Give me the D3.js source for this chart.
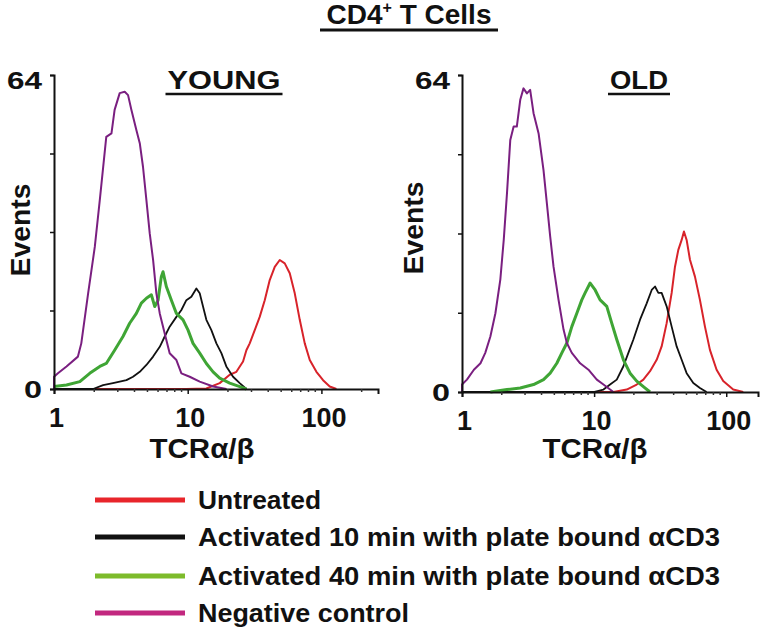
<!DOCTYPE html>
<html>
<head>
<meta charset="utf-8">
<script src="https://cdn.jsdelivr.net/npm/d3@7"></script>
<style>
  html, body { margin: 0; padding: 0; background: #fff; }
  svg { display: block; }
  text { font-family: "Liberation Sans", Arial, sans-serif; font-weight: bold; fill: #111; }
</style>
</head>
<body>
<svg id="chart" width="769" height="631"></svg>
<script>
// ---- Data (fluorescence intensity, events) ----
const seriesNames = ["Untreated", "Activated 10 min with plate bound \u03b1CD3",
                     "Activated 40 min with plate bound \u03b1CD3", "Negative control"];
const panelTitles = ["YOUNG", "OLD"];
const xTickValues = [1, 10, 100];
const yTickValues = [0, 16, 32, 48, 64];
const yTickLabels = ["0", "", "", "", "64"];

const youngUntreated = [[1,0],[9.77,0],[13.79,0.1],[17.35,1.2],[20.62,2.9],[23.13,3.5],[25.94,5.6],[27.47,7.9],[29.1,9.3],[31.72,12.0],[34.56,14.7],[37.68,18.1],[41.07,22.2],[44.77,24.9],[48.8,26.3],[53.19,25.6],[57.98,23.6],[63.19,19.5],[68.88,14.1],[75.07,9.3],[81.83,5.9],[91.76,3.5],[102.9,1.8],[115.4,0.5],[129.5,0]];
const youngAct10 = [[1,0],[1.96,0],[2.33,0.8],[2.76,1.2],[3.1,1.5],[3.48,1.8],[3.9,2.5],[4.38,3.5],[4.91,4.9],[5.51,6.6],[6.18,8.6],[6.73,10.7],[7.33,12.7],[8.23,14.7],[8.97,16.1],[9.77,18.1],[10.65,18.8],[11.61,20.5],[12.3,19.5],[13.02,16.8],[13.79,14.1],[15.03,12.0],[16.39,9.3],[17.86,7.3],[19.45,4.6],[21.84,2.5],[24.49,1.2],[27.47,0]];
const youngAct40 = [[1.0,0.5],[1.24,0.8],[1.56,1.5],[1.85,3.2],[2.2,4.6],[2.46,5.2],[2.84,7.9],[3.28,10.7],[3.68,13.4],[4.13,15.4],[4.5,17.5],[4.91,18.5],[5.35,19.2],[5.67,16.8],[6.0,18.1],[6.35,22.9],[6.54,23.9],[6.92,20.9],[7.55,18.1],[8.23,15.4],[9.23,14.1],[10.06,12.0],[10.96,9.3],[12.3,7.3],[13.79,5.2],[15.47,3.5],[17.35,2.2],[20.62,1.2],[24.49,0.5],[27.47,0]];
const youngNegative = [[1.0,0],[1.0,2.5],[1.07,3.2],[1.24,4.6],[1.51,6.6],[1.6,9.3],[1.8,19.5],[2.02,29.0],[2.2,38.5],[2.46,51.4],[2.69,52.1],[2.84,56.9],[3.1,60.3],[3.38,60.6],[3.58,59.9],[3.79,56.9],[4.13,52.8],[4.38,50.1],[4.63,45.3],[4.91,38.5],[5.2,31.7],[5.51,26.3],[5.83,19.5],[6.18,15.4],[6.73,11.3],[7.33,7.3],[8.23,5.9],[8.97,3.2],[10.35,2.5],[12.3,1.5],[15.5,0.5],[19.5,0]];

const oldUntreated = [[1,0],[14.0,0],[17.65,0.5],[21.01,1.5],[23.59,2.5],[26.5,4.2],[29.76,6.5],[32.45,9.2],[35.41,13.9],[38.64,20.0],[40.95,25.3],[43.39,28.7],[45.99,30.7],[47.87,32.4],[50.16,30.7],[53.16,26.7],[57.99,23.3],[63.24,18.6],[69.02,13.2],[75.27,8.5],[84.53,4.5],[94.91,2.2],[113.0,0.5],[134.5,0]];
const oldAct10 = [[1,0],[9.89,0],[11.77,0.5],[13.21,1.5],[14.84,2.5],[16.66,5.2],[18.17,7.9],[19.83,10.6],[22.27,14.6],[25.0,17.9],[27.29,20.6],[28.91,21.3],[30.63,20.0],[32.45,20.0],[35.41,17.3],[38.64,13.2],[42.15,9.2],[45.99,6.5],[50.16,3.8],[56.33,1.8],[63.24,0.8],[71.02,0]];
const oldAct40 = [[1.64,0],[2.19,0.5],[2.76,0.8],[3.48,1.5],[4.14,2.5],[4.65,3.8],[5.22,5.8],[5.7,7.9],[6.22,9.9],[6.78,13.2],[7.4,15.9],[8.07,18.6],[8.55,20.0],[9.33,22.0],[10.18,20.6],[11.1,18.6],[12.47,17.3],[13.6,13.9],[14.84,10.6],[16.66,6.5],[18.71,3.8],[21.01,2.2],[23.59,1.1],[26.5,0]];
const oldNegative = [[1.0,0],[1.0,1.5],[1.09,2.5],[1.23,4.5],[1.38,5.8],[1.5,7.9],[1.64,11.2],[1.79,15.9],[1.95,22.7],[2.07,30.7],[2.19,40.1],[2.32,50.9],[2.46,53.6],[2.6,53.6],[2.76,59.0],[2.92,61.3],[3.1,60.3],[3.28,61.0],[3.48,56.3],[3.8,52.2],[4.14,44.8],[4.39,38.1],[4.65,31.4],[4.93,25.3],[5.38,18.6],[5.87,12.6],[6.22,9.9],[6.78,7.9],[7.84,5.8],[9.06,4.5],[10.48,2.5],[11.77,1.5],[14.0,0]];

// ---- Styles ----
const curveColors = ["#d8232a", "#111111", "#3fa535", "#7a1f80"];
const curveWidths = [2, 1.8, 3, 2];
const legendColors = ["#e8252b", "#111111", "#7dbb2b", "#c2287f"];
const legendLengths = [123, 522, 522, 211];
const yLabelLengths = { "0": 18, "64": 35 };

const svg = d3.select("#chart");

// ---- Title ----
const title = svg.append("text").attr("x", 409).attr("y", 24).attr("text-anchor", "middle").style("font-size", "28px");
title.append("tspan").text("CD4");
title.append("tspan").text("+").style("font-size", "16px").attr("dy", -11);
title.append("tspan").text(" T Cells").attr("dy", 11);
svg.append("line").attr("x1", 320).attr("x2", 498).attr("y1", 30).attr("y2", 30).attr("stroke", "#111").attr("stroke-width", 3);

const panels = [
  { title: panelTitles[0], titleX: 224, titleLen: 113, xRange: [54, 378], xMax: 265, yRange: [389, 75],
    eventsX: 20, eventsY: 230, axisLabelX: 202,
    series: [youngUntreated, youngAct10, youngAct40, youngNegative] },
  { title: panelTitles[1], titleX: 639, titleLen: 58, xRange: [462, 758], xMax: 174, yRange: [392, 75],
    eventsX: 413, eventsY: 228, axisLabelX: 595,
    series: [oldUntreated, oldAct10, oldAct40, oldNegative] }
];

panels.forEach(p => {
  const x = d3.scaleLog().domain([1, p.xMax]).range(p.xRange);
  const y = d3.scaleLinear().domain([0, 64]).range(p.yRange);
  const g = svg.append("g");

  // curves
  const line = d3.line().x(d => x(d[0])).y(d => y(d[1]));
  p.series.forEach((s, i) => {
    g.append("path").datum(s).attr("d", line)
      .attr("fill", "none").attr("stroke", curveColors[i])
      .attr("stroke-width", curveWidths[i]).attr("stroke-linejoin", "round");
  });

  // y axis
  const yAxis = g.append("g").attr("transform", `translate(${p.xRange[0]},0)`)
    .call(d3.axisLeft(y).tickValues(yTickValues).tickSize(4).tickPadding(8)
      .tickFormat((d, i) => yTickLabels[i]));
  yAxis.select(".domain").attr("stroke", "#111").attr("stroke-width", 2);
  yAxis.selectAll(".tick line").attr("stroke", "#111").attr("stroke-width", 1.5);
  yAxis.selectAll(".tick text").style("font-size", "24px").attr("fill", "#111")
    .style("font-family", "Liberation Sans, Arial, sans-serif").style("font-weight", "bold")
    .attr("dy", function() { return this.textContent === "64" ? "0.55em" : "0.36em"; })
    .attr("textLength", function() { return yLabelLengths[this.textContent] || null; })
    .attr("lengthAdjust", "spacingAndGlyphs");

  // x axis
  const xAxis = g.append("g").attr("transform", `translate(0,${p.yRange[0]})`)
    .call(d3.axisBottom(x).tickValues(xTickValues).tickSize(5).tickPadding(14)
      .tickFormat(d3.format("d")));
  xAxis.select(".domain").attr("stroke", "#111").attr("stroke-width", 2);
  xAxis.selectAll(".tick line").attr("stroke", "#111").attr("stroke-width", 1.5);
  xAxis.selectAll(".tick text").style("font-size", "27px").attr("fill", "#111")
    .attr("dx", 2)
    .style("font-family", "Liberation Sans, Arial, sans-serif").style("font-weight", "bold");
  // minor ticks
  const minor = x.ticks().filter(v => xTickValues.indexOf(v) < 0);
  xAxis.selectAll(".minor").data(minor).enter().append("line").attr("class", "minor")
    .attr("x1", d => x(d)).attr("x2", d => x(d)).attr("y1", 0).attr("y2", 3)
    .attr("stroke", "#333").attr("stroke-width", 1.5);

  // panel title
  g.append("text").attr("x", p.titleX).attr("y", 89).attr("text-anchor", "middle")
    .attr("textLength", p.titleLen).attr("lengthAdjust", "spacingAndGlyphs")
    .style("font-size", "25px").text(p.title);
  g.append("line").attr("x1", p.titleX - p.titleLen / 2 - 2).attr("x2", p.titleX + p.titleLen / 2 + 2)
    .attr("y1", 94).attr("y2", 94).attr("stroke", "#111").attr("stroke-width", 2.5);

  // axis titles
  g.append("text").attr("transform", `translate(${p.eventsX},${p.eventsY}) rotate(-90)`)
    .attr("text-anchor", "middle").attr("dy", "0.36em").style("font-size", "28px")
    .attr("textLength", 93).attr("lengthAdjust", "spacingAndGlyphs").text("Events");
  g.append("text").attr("x", p.axisLabelX).attr("y", 458).attr("text-anchor", "middle")
    .style("font-size", "27px").attr("textLength", 105).attr("lengthAdjust", "spacingAndGlyphs")
    .text("TCR\u03b1/\u03b2");
});

// ---- Legend ----
const legendY = [500, 537, 576, 613];
const legend = svg.append("g");
seriesNames.forEach((name, i) => {
  legend.append("line").attr("x1", 95).attr("x2", 185).attr("y1", legendY[i]).attr("y2", legendY[i])
    .attr("stroke", legendColors[i]).attr("stroke-width", 5);
  legend.append("text").attr("x", 198).attr("y", legendY[i] + 9).style("font-size", "26px")
    .attr("textLength", legendLengths[i]).attr("lengthAdjust", "spacingAndGlyphs").text(name);
});
</script>
</body>
</html>
